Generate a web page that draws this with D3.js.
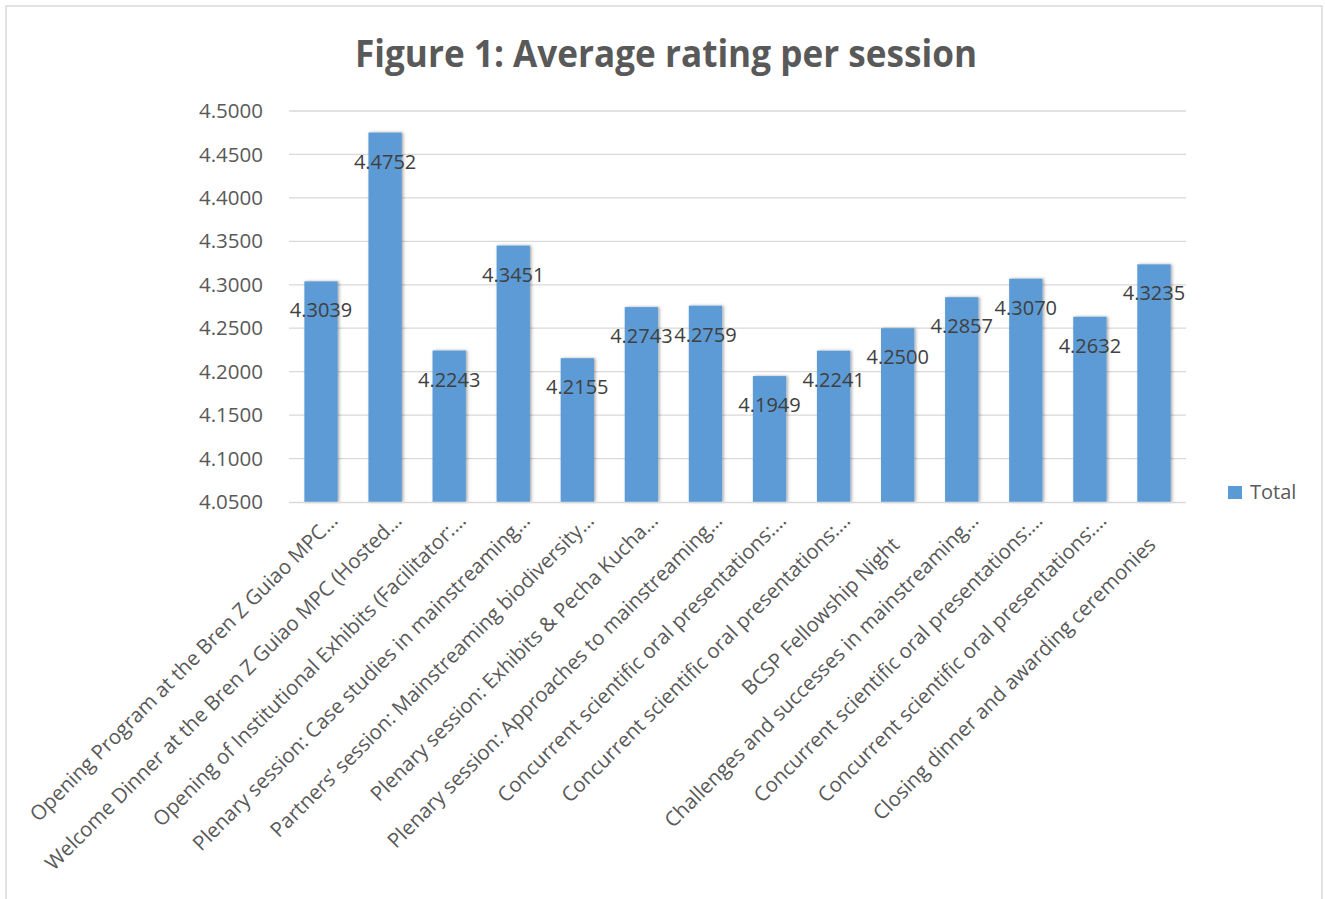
<!DOCTYPE html>
<html>
<head>
    <title>Figure 1: Average rating per session</title>
    <script src="https://cdn.jsdelivr.net/npm/d3@7"></script>
    <style>
        body { margin: 0; background: #fff; }
        svg { display: block; font-family: "Open Sans", sans-serif; }
    </style>
</head>
<body>
    <svg width="1325" height="899"></svg>

    <script>
        // Sessions (as truncated on the axis) and average ratings
        const sessions = [
            "Opening Program at the Bren Z Guiao MPC\u2026",
            "Welcome Dinner at the Bren Z Guiao MPC (Hosted\u2026",
            "Opening of Institutional Exhibits (Facilitator:\u2026",
            "Plenary session: Case studies in mainstreaming\u2026",
            "Partners\u2019 session: Mainstreaming biodiversity\u2026",
            "Plenary session: Exhibits & Pecha Kucha\u2026",
            "Plenary session: Approaches to mainstreaming\u2026",
            "Concurrent scientific oral presentations:\u2026",
            "Concurrent scientific oral presentations:\u2026",
            "BCSP Fellowship Night",
            "Challenges and successes in mainstreaming\u2026",
            "Concurrent scientific oral presentations:\u2026",
            "Concurrent scientific oral presentations:\u2026",
            "Closing dinner and awarding ceremonies"
        ];
        const ratings = [4.3039, 4.4752, 4.2243, 4.3451, 4.2155, 4.2743, 4.2759,
                         4.1949, 4.2241, 4.2500, 4.2857, 4.3070, 4.2632, 4.3235];
        const yTicks = [4.05, 4.10, 4.15, 4.20, 4.25, 4.30, 4.35, 4.40, 4.45, 4.50];
        const seriesName = "Total";

        const svg = d3.select("svg");
        const plot = { left: 289, right: 1186, top: 111, bottom: 502 };
        const fmt = d3.format(".4f");

        // chart border
        svg.append("rect")
            .attr("x", 6).attr("y", 6)
            .attr("width", 1316).attr("height", 900)
            .attr("fill", "none")
            .attr("stroke", "#d9d9d9")
            .attr("stroke-width", 1.5);

        // title
        svg.append("text")
            .attr("x", 666).attr("y", 67)
            .attr("text-anchor", "middle")
            .attr("font-size", 37)
            .attr("font-weight", "bold")
            .attr("fill", "#595959")
            .attr("textLength", 622)
            .attr("lengthAdjust", "spacingAndGlyphs")
            .text("Figure 1: Average rating per session");

        // scales
        const x = d3.scaleBand()
            .domain(d3.range(sessions.length))
            .range([plot.left, plot.right])
            .paddingInner(0.48)
            .paddingOuter(0.24);

        const y = d3.scaleLinear()
            .domain([4.05, 4.5])
            .range([plot.bottom, plot.top]);

        // gridlines
        svg.append("g")
            .selectAll("line")
            .data(yTicks.slice(1))
            .join("line")
            .attr("x1", plot.left).attr("x2", plot.right)
            .attr("y1", d => y(d)).attr("y2", d => y(d))
            .attr("stroke", "#d9d9d9")
            .attr("stroke-width", 1.3);

        // y axis
        const yAxis = svg.append("g")
            .attr("transform", `translate(${plot.left},0)`)
            .call(d3.axisLeft(y).tickValues(yTicks).tickFormat(fmt).tickSize(0).tickPadding(26));
        yAxis.select(".domain").remove();
        yAxis.selectAll("text")
            .attr("font-family", "Open Sans")
            .attr("font-size", 20.5)
            .attr("fill", "#595959");

        // bar shadow
        const defs = svg.append("defs");
        const f = defs.append("filter").attr("id", "shadow")
            .attr("x", "-30%").attr("y", "-10%").attr("width", "160%").attr("height", "120%");
        f.append("feDropShadow")
            .attr("dx", 1.5).attr("dy", 0).attr("stdDeviation", 1.8)
            .attr("flood-color", "#000").attr("flood-opacity", 0.35);

        // bars
        svg.append("g")
            .selectAll("rect")
            .data(ratings)
            .join("rect")
            .attr("x", (d, i) => x(i))
            .attr("y", d => y(d))
            .attr("width", x.bandwidth())
            .attr("height", d => y.range()[0] - y(d))
            .attr("fill", "#5b9bd5")
            .attr("filter", "url(#shadow)");

        // x axis line
        svg.append("line")
            .attr("x1", plot.left).attr("x2", plot.right)
            .attr("y1", plot.bottom + 0.5).attr("y2", plot.bottom + 0.5)
            .attr("stroke", "#d9d9d9")
            .attr("stroke-width", 1.5);

        // data labels (inside end)
        svg.append("g")
            .selectAll("text")
            .data(ratings)
            .join("text")
            .attr("x", (d, i) => x(i) + x.bandwidth() / 2)
            .attr("y", d => y(d) + 36)
            .attr("text-anchor", "middle")
            .attr("font-size", 20)
            .attr("fill", "#404040")
            .text(d => fmt(d));

        // category labels, rotated -45; truncated ones sit further up the diagonal
        svg.append("g")
            .selectAll("text")
            .data(sessions)
            .join("text")
            .attr("transform", (d, i) => {
                const cx = x(i) + x.bandwidth() / 2;
                const cut = d.endsWith("\u2026");
                return `translate(${cx + (cut ? 18 : 3)},${plot.bottom + (cut ? 20 : 44)}) rotate(-45)`;
            })
            .attr("text-anchor", "end")
            .attr("font-size", 20.5)
            .attr("fill", "#595959")
            .text(d => d);

        // legend
        const legend = svg.append("g").attr("transform", "translate(1228,486)");
        legend.append("rect")
            .attr("width", 14).attr("height", 13)
            .attr("fill", "#5b9bd5");
        legend.append("text")
            .attr("x", 22).attr("y", 13)
            .attr("font-size", 20)
            .attr("fill", "#595959")
            .text(seriesName);
    </script>
</body>
</html>
